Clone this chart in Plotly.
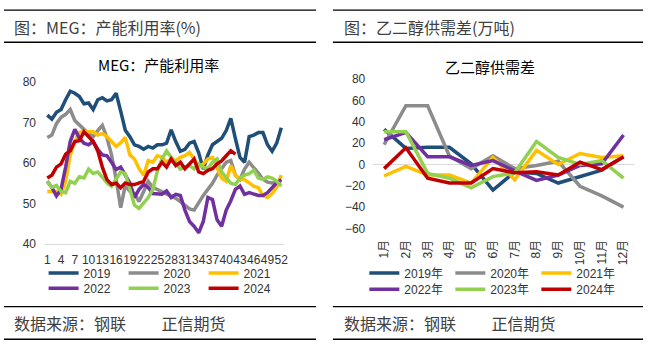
import plotly.graph_objects as go

W, H = 652, 352

# ---------------- data: left chart (weekly MEG capacity utilisation, %) ----------------
weeks = list(range(1, 53))
week_ticks = [1, 4, 7, 10, 13, 16, 19, 22, 25, 28, 31, 34, 37, 40, 43, 46, 49, 52]

u2019 = [71.8, 70.8, 72.5, 73.2, 75.6, 77.7, 77.2, 76.4, 74.6, 74.8,
         73.2, 75.6, 76.1, 75.3, 75.6, 77.2, 72.8, 68.1, 66.5, 64.5,
         64.1, 63.4, 64.1, 63.7, 64.5, 64.5, 64.9, 68.2, 65.3, 62.9,
         63.4, 64.9, 65.3, 62.5, 58.5, 62.0, 64.5, 65.3, 66.1, 68.0,
         71.0, 66.0, 61.4, 60.2, 66.5, 66.9, 67.5, 67.5, 64.5, 62.9,
         64.9, 68.7]
u2020 = [66.3, 66.9, 69.7, 71.3, 72.0, 73.2, 70.5, 69.3, 68.3, 67.3,
         66.5, 68.0, 69.3, 66.3, 62.0, 56.0, 49.0, 54.5, 53.0, 52.5,
         50.5, 53.0, 55.5, 54.0, 53.5, 53.0, 52.5, 52.0, 51.3, 50.5,
         49.5, 48.7, 48.4, 50.3, 52.0, 53.5, 55.0, 57.0, 58.6, 60.2,
         60.6, 57.0, 56.0, 58.5, 60.2, 59.0, 57.5, 56.0, 55.3, 55.1,
         55.1, 55.3]
u2021 = [53.0, 53.0, 53.0, 52.3, 55.5, 62.0, 65.3, 67.5, 67.8, 67.7,
         67.7, 66.9, 67.3, 66.5, 65.3, 64.1, 65.0, 66.3, 62.0, 61.0,
         58.6, 57.0, 60.6, 60.2, 61.8, 61.4, 60.2, 61.0, 60.6, 61.4,
         61.8, 62.6, 61.0, 59.0, 59.8, 61.0, 61.4, 59.0, 56.3, 55.5,
         59.4, 57.0, 56.0, 55.9, 55.0, 54.3, 53.9, 52.0, 51.5, 52.5,
         54.0, 57.0]
u2022 = [55.5, 54.0, 51.9, 53.5, 59.0, 65.3, 68.3, 66.1, 64.9, 64.5,
         65.3, 63.4, 62.0, 61.8, 60.2, 58.4, 59.0, 57.0, 55.1, 51.5,
         53.5, 54.7, 54.0, 52.5, 52.3, 52.3, 53.1, 51.5, 52.3, 52.0,
         48.4, 45.6, 44.4, 42.8, 45.6, 51.5, 51.0, 46.0, 44.4, 48.4,
         50.7, 53.5, 54.3, 52.3, 52.7, 52.3, 52.0, 52.0, 52.7, 53.9,
         55.1, 55.9]
u2023 = [55.5, 54.0, 54.5, 53.0, 52.7, 55.5, 55.0, 56.6, 56.3, 58.5,
         57.4, 57.8, 56.5, 55.1, 54.3, 55.9, 57.8, 57.4, 53.5, 49.6,
         48.8, 50.0, 51.5, 53.5, 58.0, 61.0, 63.0, 61.5, 60.0, 58.5,
         59.0, 59.4, 58.6, 59.8, 59.0, 58.6, 60.2, 61.0, 57.8, 56.5,
         55.0, 54.7, 56.3, 57.0, 57.4, 58.2, 56.3, 56.0, 56.6, 56.3,
         55.5, 54.3]
u2024 = [56.3, 57.0, 59.0, 59.8, 62.2, 63.0, 65.3, 65.5, 67.7, 66.5,
         65.3, 63.0, 59.0, 55.9, 54.7, 55.0, 53.9, 55.1, 54.7, 54.7,
         55.0, 55.5, 57.8, 58.6, 58.6, 60.2, 59.0, 61.0, 59.4, 60.2,
         58.6, 59.8, 61.0, 57.8, 57.4, 58.2, 58.6, 59.8, 60.5, 61.8,
         63.0, 62.2]

# ---------------- data: right chart (monthly MEG supply-demand gap, 10k t) ----------------
months = ["1月", "2月", "3月", "4月", "5月", "6月", "7月", "8月", "9月", "10月", "11月", "12月"]
g2019 = [33, 15, 16, 16, 0.6, -24, -7, -8.4, -17.4, -11.4, -5.4, 7.2]
g2020 = [18.6, 55, 55, 8, -3.9, 8.1, -3.9, -0.9, 3, -20.4, -29.4, -40]
g2021 = [-10.8, -1.8, -9.9, -9.9, -17.4, 6.6, -14.4, 13.2, 0, 10.2, 6.6, 8.1]
g2022 = [23.1, 30, 7.2, 7.2, -0.9, 3.6, -6, -15, -9.9, -0.9, 0.6, 27.6]
g2023 = [30.6, 30.6, -8.4, -12.9, -21.9, -11.4, -7.8, 21.6, 6.6, 0, 3.6, -12.9]
g2024 = [-3.9, 15.6, -12.9, -17.4, -17.4, -3.9, -7.8, -6.9, -9.9, 2.1, -4.8, 7.2]

years = ["2019", "2020", "2021", "2022", "2023", "2024"]
colors = ["#1F4E79", "#8C8C8C", "#FFC000", "#7030A0", "#92D050", "#C00000"]
left_series = [u2019, u2020, u2021, u2022, u2023, u2024]
right_series = [g2019, g2020, g2021, g2022, g2023, g2024]

CJK = "Noto Sans CJK SC"
NUM = "Liberation Sans, Noto Sans CJK SC"

def px(x):
    return x / W

def py(y):
    return 1 - y / H

fig = go.Figure()

for i, (yr, col, vals) in enumerate(zip(years, colors, left_series)):
    fig.add_trace(go.Scatter(
        x=weeks[:len(vals)], y=vals, mode="lines", name=yr,
        line=dict(color=col, width=3.5),
        xaxis="x", yaxis="y",
        legend="legend" if i < 3 else "legend2",
        hoverinfo="skip"))

for i, (yr, col, vals) in enumerate(zip(years, colors, right_series)):
    fig.add_trace(go.Scatter(
        x=months, y=vals, mode="lines", name=yr + "年",
        line=dict(color=col, width=3.5),
        xaxis="x2", yaxis="y2",
        legend="legend3" if i < 3 else "legend4",
        hoverinfo="skip"))

tickfont = dict(family=NUM, size=12, color="#333333")
legfont = dict(family=NUM, size=12, color="#333333")

def leg(x, y, ew):
    return dict(orientation="h", x=px(x), y=py(y), xanchor="left", yanchor="middle",
                entrywidth=ew, entrywidthmode="pixels", font=legfont,
                bgcolor="rgba(0,0,0,0)", borderwidth=0, traceorder="normal",
                itemclick=False, itemdoubleclick=False)

fig.update_layout(
    width=W, height=H,
    margin=dict(l=0, r=0, t=0, b=0),
    paper_bgcolor="white", plot_bgcolor="white",
    xaxis=dict(domain=[px(44.4), px(285.2)], range=[0.5, 52.5], anchor="y",
               tickmode="array", tickvals=week_ticks, ticktext=[str(t) for t in week_ticks],
               tickangle=0, tickfont=tickfont, showgrid=False, zeroline=False,
               showline=True, linecolor="#D9D9D9", linewidth=1, ticks="",
               ticklabelstandoff=4, fixedrange=True),
    yaxis=dict(domain=[py(247), py(78)], range=[40, 80], dtick=10, anchor="x",
               tickfont=tickfont, showgrid=False, zeroline=False, showline=False,
               ticks="", ticklabelstandoff=8, fixedrange=True),
    xaxis2=dict(domain=[px(375.7), px(639.3)], type="category", anchor="y2",
                categoryorder="array", categoryarray=months, range=[-0.5, 11.5],
                tickangle=-90, tickfont=tickfont, showgrid=False, zeroline=False,
                showline=False, ticks="", ticklabelstandoff=8, fixedrange=True),
    yaxis2=dict(domain=[py(230.7), py(75)], range=[-60, 80], dtick=20, anchor="x2",
                tickfont=tickfont, showgrid=False, zeroline=True,
                zerolinecolor="#D9D9D9", zerolinewidth=1, showline=False,
                ticks="", ticklabelstandoff=7, fixedrange=True),
    legend=leg(43, 277, 35),
    legend2=leg(43, 293, 35),
    legend3=leg(366.7, 277, 41),
    legend4=leg(366.7, 294, 41),
    showlegend=True,
)

# header / footer rules
rules = [
    (3, 318, 3.3), (3, 318, 36.7), (3, 318, 312), (3, 318, 346),
    (335, 648, 3.3), (335, 648, 36.7), (335, 648, 312), (335, 648, 346),
]
for x0, x1, y in rules:
    fig.add_shape(type="line", xref="paper", yref="paper",
                  x0=px(x0), x1=px(x1), y0=py(y), y1=py(y),
                  line=dict(color="#000000", width=1.3))

def text(x, y, s, size, anchor="left", color="#404040"):
    fig.add_annotation(x=px(x), y=py(y), xref="paper", yref="paper", text=s,
                       showarrow=False, xanchor=anchor, yanchor="middle",
                       font=dict(family=CJK, size=size, color=color))

text(11, 20.5, "图：MEG：产能利用率(%)", 16)
text(344, 20.5, "图：乙二醇供需差(万吨)", 16)
text(159, 60, "MEG：产能利用率", 15, anchor="center", color="#000000")
text(494, 61.5, "乙二醇供需差", 15, anchor="center", color="#000000")
text(11, 329, "数据来源：钢联　　 正信期货", 16)
text(344, 329, "数据来源：钢联　　 正信期货", 16)

fig.write_html("out.html")
